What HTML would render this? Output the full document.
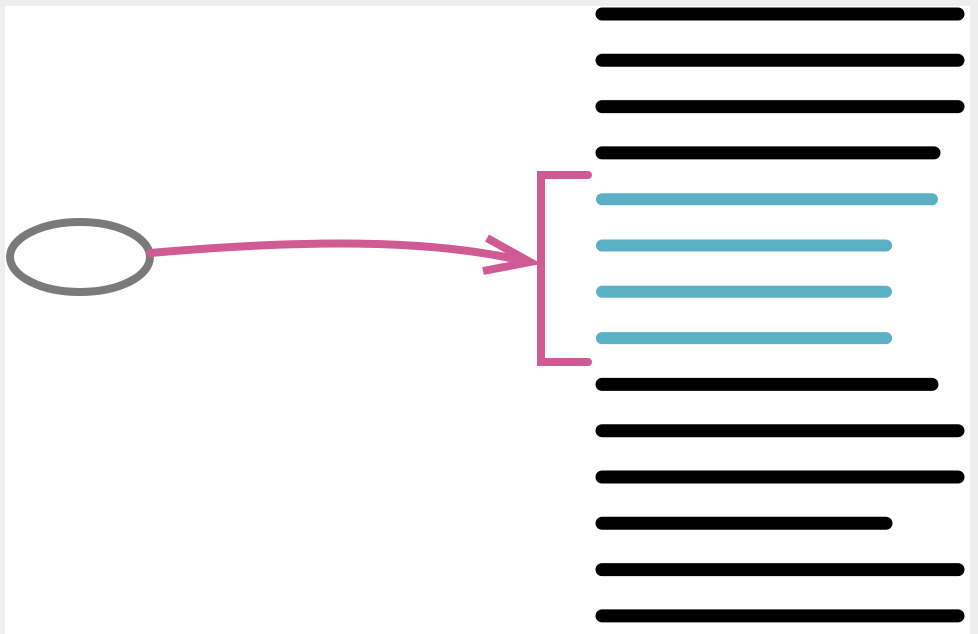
<!DOCTYPE html>
<html><head><meta charset="utf-8"><style>
html,body{margin:0;padding:0;background:#eeeeee;width:978px;height:634px;overflow:hidden}
svg{display:block}
</style></head><body>
<svg id="c" width="978" height="634">
<rect x="5" y="6" width="965" height="628" fill="#ffffff"/>
<rect x="10" y="222" width="140" height="70" rx="70" ry="35" fill="none" stroke="#7a7a7a" stroke-width="8"/>
<path d="M150 253 C 300 240, 430 238, 528 262" fill="none" stroke="#d05a94" stroke-width="8" stroke-linecap="round"/>
<path d="M487 238 L530 262 L483 271" fill="none" stroke="#d05a94" stroke-width="8" stroke-linejoin="miter"/>
<path d="M588 175 L541 175 L541 362 L588 362" fill="none" stroke="#d05a94" stroke-width="8" stroke-linejoin="miter" stroke-linecap="round"/>
<g id="lines"></g>
</svg>
<script>
const rowIndex=[0,1,2,3,4,5,6,7,8,9,10,11,12,13];
const rowLength=[362,362,362,338,336,290,290,290,336,362,362,290,362,362];
const rowHighlighted=[0,0,0,0,1,1,1,1,0,0,0,0,0,0];
const g=document.getElementById('lines');
const y=i=>14+i*46.3;
const x0=602;
rowIndex.forEach((r,i)=>{
  const l=document.createElementNS('http://www.w3.org/2000/svg','line');
  l.setAttribute('x1',x0);l.setAttribute('x2',x0+rowLength[i]-6);
  l.setAttribute('y1',y(r));l.setAttribute('y2',y(r));
  const hl=rowHighlighted[i];
  l.setAttribute('stroke',hl?'#5ab0c4':'#000');
  l.setAttribute('stroke-width',hl?12:13);
  l.setAttribute('stroke-linecap','round');
  
  
  g.appendChild(l);
});
</script>
</body></html>
